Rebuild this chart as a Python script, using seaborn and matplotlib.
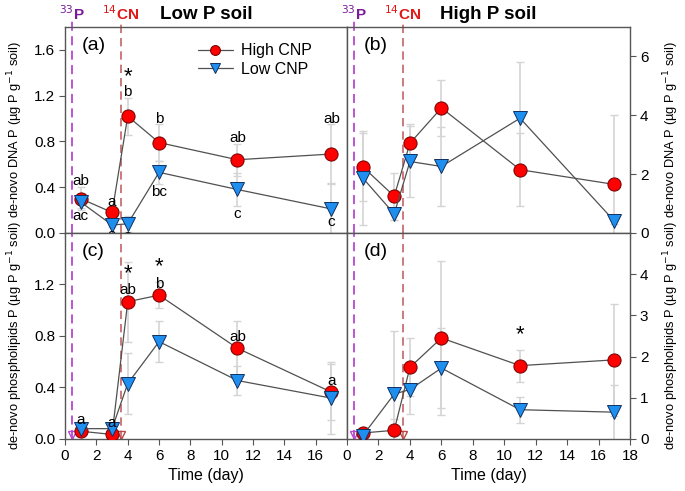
import matplotlib
matplotlib.use("Agg")
import matplotlib.pyplot as plt
import seaborn as sns

sns.set_theme(style="ticks")
plt.rcParams['font.family'] = ['Liberation Sans', 'DejaVu Sans']
plt.rcParams['text.color'] = 'black'
plt.rcParams['axes.labelcolor'] = 'black'
plt.rcParams['xtick.labelcolor'] = 'black'
plt.rcParams['ytick.labelcolor'] = 'black'

days = [1, 3, 4, 6, 11, 17]

# (a) Low P soil, DNA P
a_high = [0.30, 0.18, 1.02, 0.79, 0.64, 0.69]
a_high_err = [0.10, 0.04, 0.16, 0.16, 0.14, 0.26]
a_low = [0.27, 0.07, 0.08, 0.53, 0.38, 0.21]
a_low_err = [0.05, 0.02, 0.07, 0.10, 0.14, 0.23]
a_high_letters = ['ab', 'a', 'b', 'b', 'ab', 'ab']
a_low_letters = ['ac', 'a', 'a', 'bc', 'c', 'c']
a_stars = [4]

# (b) High P soil, DNA P
b_high = [2.25, 1.25, 3.05, 4.25, 2.15, 1.65]
b_high_err = [1.15, 0.8, 0.65, 0.95, 1.25, 2.35]
b_low = [1.87, 0.65, 2.43, 2.26, 3.90, 0.40]
b_low_err = [1.6, 0.2, 1.2, 1.35, 1.9, 0.1]

# (c) Low P soil, phospholipids P
c_high = [0.06, 0.035, 1.066, 1.117, 0.705, 0.364]
c_high_err = [0.03, 0.02, 0.31, 0.10, 0.21, 0.22]
c_low = [0.08, 0.08, 0.43, 0.756, 0.454, 0.317]
c_low_err = [0.02, 0.02, 0.24, 0.16, 0.11, 0.28]
c_high_letters = ['a', 'a', 'ab', 'b', 'ab', 'a']
c_stars = [4, 6]

# (d) High P soil, phospholipids P
d_high = [0.145, 0.21, 1.74, 2.45, 1.78, 1.92]
d_high_err = [0.1, 0.27, 0.7, 1.87, 0.39, 1.36]
d_low = [0.08, 1.09, 1.20, 1.72, 0.71, 0.65]
d_low_err = [0.1, 1.54, 0.6, 0.98, 0.32, 0.67]
d_stars = [11]

p33_day = 0.45
cn14_day = 3.55

fig = plt.figure(figsize=(6.85, 4.91), dpi=100)
L, M, R = 0.095, 0.5066, 0.92
B, MID, T = 0.106, 0.5255, 0.945
ax_a = fig.add_axes([L, MID, M - L, T - MID])
ax_b = fig.add_axes([M, MID, R - M, T - MID])
ax_c = fig.add_axes([L, B, M - L, MID - B])
ax_d = fig.add_axes([M, B, R - M, MID - B])

ylabel_dna = r'de-novo DNA P (µg P g$^{-1}$ soil)'
ylabel_pl = r'de-novo phospholipids P (µg P g$^{-1}$ soil)'

panels = [
    (ax_a, a_high, a_high_err, a_low, a_low_err, (0, 1.8), [0, 0.4, 0.8, 1.2, 1.6], '(a)'),
    (ax_b, b_high, b_high_err, b_low, b_low_err, (0, 7), [0, 2, 4, 6], '(b)'),
    (ax_c, c_high, c_high_err, c_low, c_low_err, (0, 1.6), [0, 0.4, 0.8, 1.2], '(c)'),
    (ax_d, d_high, d_high_err, d_low, d_low_err, (0, 5), [0, 1, 2, 3, 4], '(d)'),
]

for ax, hi, hi_e, lo, lo_e, ylim, yt, tag in panels:
    ax.errorbar(days, hi, yerr=hi_e, fmt='none', ecolor='#d4d4d4', elinewidth=1.2,
                capsize=3, capthick=1, zorder=1)
    ax.errorbar(days, lo, yerr=lo_e, fmt='none', ecolor='#d4d4d4', elinewidth=1.2,
                capsize=3, capthick=1, zorder=1)
    sns.lineplot(x=days, y=hi, ax=ax, color='#505050', lw=0.9, marker='o',
                 markersize=9.5, markerfacecolor='#ff0000', markeredgecolor='#700000',
                 markeredgewidth=0.7, label='High CNP', zorder=3)
    sns.lineplot(x=days, y=lo, ax=ax, color='#505050', lw=0.9, marker='v',
                 markersize=9.5, markerfacecolor='#1e8fef', markeredgecolor='#103060',
                 markeredgewidth=0.7, label='Low CNP', zorder=3)
    ax.set_xlim(0, 18)
    ax.set_ylim(*ylim)
    ax.set_yticks(yt)
    ax.set_xticks(range(0, 19, 2))
    ax.text(0.06, 0.95, tag, transform=ax.transAxes, fontsize=14, va='top', ha='left')
    for s in ax.spines.values():
        s.set_color('#555555')
        s.set_linewidth(1.0)
    ax.tick_params(direction='out', length=4, width=0.8, color='#555555',
                   labelsize=11, pad=3)
    ax.set_xlabel('')
    ax.set_ylabel('')

    # 33P and 14CN addition lines
    top_row = ax in (ax_a, ax_b)
    ymax = 1.035 if top_row else 1.0
    ax.axvline(p33_day, ymin=0, ymax=ymax, color='#b848d0', ls=(0, (5, 3)), lw=1.3,
               clip_on=False, zorder=0)
    ax.axvline(cn14_day, ymin=0, ymax=ymax, color='#b84848', ls=(0, (5, 3)), lw=1.2,
               clip_on=False, zorder=0, alpha=0.85)
    if not top_row:
        ax.plot([p33_day], [ylim[1] * 0.02], marker='v', ms=6, mfc='none',
                mec='#b848d0', clip_on=False)
        ax.plot([cn14_day], [ylim[1] * 0.02], marker='v', ms=6, mfc='none',
                mec='#b84848', clip_on=False)
    else:
        ax.text(p33_day, ylim[1] * 1.02, r'$^{33}$P', color='#7a1a9a', fontsize=11,
                fontweight='bold', ha='center', va='bottom')
        ax.text(cn14_day, ylim[1] * 1.02, r'$^{14}$CN', color='#e01818', fontsize=11,
                fontweight='bold', ha='center', va='bottom')
    ax.get_legend().remove()

# left column: y on left, right column: y on right
for ax in (ax_b, ax_d):
    ax.yaxis.tick_right()
    ax.yaxis.set_label_position('right')
for ax in (ax_a, ax_b):
    ax.tick_params(labelbottom=False)

ax_a.set_ylabel(ylabel_dna, fontsize=9.3, labelpad=7)
ax_c.set_ylabel(ylabel_pl, fontsize=9.3, labelpad=7)
ax_b.set_ylabel(ylabel_dna, fontsize=9.3, rotation=90, labelpad=9)
ax_d.set_ylabel(ylabel_pl, fontsize=9.3, rotation=90, labelpad=9)
ax_c.set_xlabel('Time (day)', fontsize=11.5)
ax_d.set_xlabel('Time (day)', fontsize=11.5)
ax_c.set_xticks(range(0, 17, 2))

ax_a.set_title('Low P soil', fontsize=13.5, fontweight='bold', pad=6)
ax_b.set_title('High P soil', fontsize=13.5, fontweight='bold', pad=6)

# significance letters, panel (a)
for x, v, e, lab in zip(days, a_high, a_high_err, a_high_letters):
    ax_a.text(x, v + e + 0.05, lab, ha='center', va='center', fontsize=11)
for x, v, e, lab in zip(days, a_low, a_low_err, a_low_letters):
    y = v - e - 0.07
    if y < -0.03:
        y = v - 0.11
    ax_a.text(x, y, lab, ha='center', va='center', fontsize=11, clip_on=False)
for x in a_stars:
    i = days.index(x)
    ax_a.text(x, a_high[i] + a_high_err[i] + 0.19, '*', ha='center', va='center',
              fontsize=16)

# panel (c)
for x, v, lab in zip(days, c_high, c_high_letters):
    ax_c.text(x, v + 0.09, lab, ha='center', va='center', fontsize=11)
for x in c_stars:
    i = days.index(x)
    ax_c.text(x, c_high[i] + 0.22, '*', ha='center', va='center', fontsize=16)

# panel (d)
for x in d_stars:
    i = days.index(x)
    ax_d.text(x, d_high[i] + d_high_err[i] + 0.35, '*', ha='center', va='center',
              fontsize=16)

# legend in panel (a)
handles, labels = ax_a.get_legend_handles_labels()
leg = ax_a.legend(handles, labels, loc='upper left', bbox_to_anchor=(0.42, 0.99),
                  frameon=False, fontsize=11.5, markerscale=0.75, handlelength=2.2,
                  handletextpad=0.5, labelspacing=0.2)

fig.savefig('out.png', dpi=100)
